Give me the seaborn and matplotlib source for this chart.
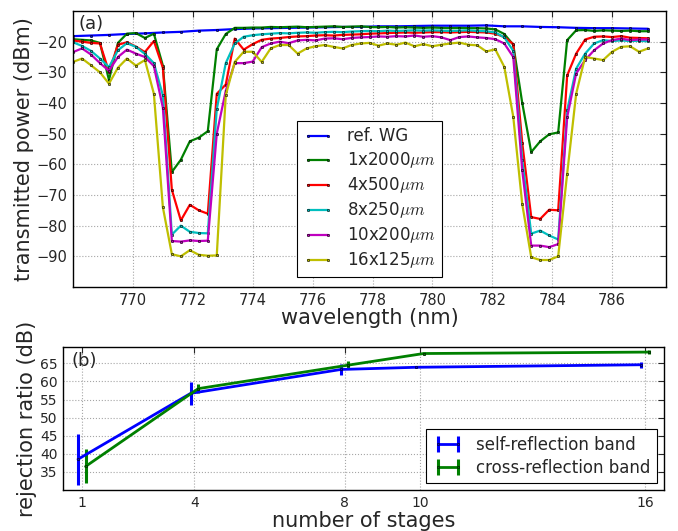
import numpy as np
import pandas as pd
import matplotlib
matplotlib.use("Agg")
import matplotlib.pyplot as plt
import seaborn as sns

# --- panel (a): transmitted power vs wavelength ---
wavelength = [768.0, 768.3, 768.6, 768.9, 769.2, 769.5, 769.8, 770.1, 770.4, 770.7,
              771.0, 771.3, 771.6, 771.9, 772.2, 772.5, 772.8, 773.1, 773.4, 773.7,
              774.0, 774.3, 774.6, 774.9, 775.2, 775.5, 775.8, 776.1, 776.4, 776.7,
              777.0, 777.3, 777.6, 777.9, 778.2, 778.5, 778.8, 779.1, 779.4, 779.7,
              780.0, 780.3, 780.6, 780.9, 781.2, 781.5, 781.8, 782.1, 782.4, 782.7,
              783.0, 783.3, 783.6, 783.9, 784.2, 784.5, 784.8, 785.1, 785.4, 785.7,
              786.0, 786.3, 786.6, 786.9, 787.2]

ref_wavelength = [768.0, 768.6, 769.2, 769.8, 770.4, 771.0, 771.6, 772.2, 772.8, 773.4,
                  774.0, 774.6, 775.2, 775.8, 776.4, 777.0, 777.6, 778.2, 778.8, 779.4,
                  780.0, 780.6, 781.2, 781.8, 782.4, 783.0, 783.6, 784.2, 784.8, 785.4,
                  786.0, 786.6, 787.2]
ref_wg = [-18.2, -18.0, -17.8, -17.5, -17.3, -17.0, -16.8, -16.4, -16.2, -15.9,
          -15.7, -15.6, -15.5, -15.4, -15.3, -15.2, -15.2, -15.0, -15.0, -14.9,
          -14.8, -14.8, -14.8, -14.7, -15.0, -15.0, -15.2, -15.3, -15.5, -15.6,
          -15.6, -15.7, -15.8]

g_1x2000 = [-19.2, -19.4, -19.6, -20.4, -32.5, -20.4, -17.4, -17.2, -18.8, -17.4,
            -27.8, -62.5, -58.5, -52.5, -51.3, -49.2, -22.5, -17.5, -15.5, -15.5,
            -15.4, -15.4, -15.2, -15.3, -15.2, -15.1, -15.3, -15.2, -15.1, -15.0,
            -15.2, -15.1, -15.0, -15.2, -15.3, -15.2, -15.4, -15.3, -15.4, -15.5,
            -15.4, -15.5, -15.6, -15.5, -15.6, -15.6, -15.7, -16.0, -17.5, -21.0,
            -40.0, -56.0, -52.5, -50.2, -49.6, -19.5, -16.3, -16.2, -16.5, -16.3,
            -16.4, -16.5, -16.4, -16.6, -16.6]

g_4x500 = [-19.6, -20.0, -20.4, -20.6, -29.8, -21.0, -20.2, -21.6, -23.4, -19.8,
           -28.5, -68.3, -78.3, -73.2, -75.0, -76.1, -37.0, -34.0, -19.0, -22.6,
           -20.8, -19.4, -19.0, -18.8, -18.5, -18.3, -18.2, -18.0, -17.9, -18.0,
           -17.8, -17.7, -17.6, -17.4, -17.3, -17.2, -17.1, -17.0, -17.1, -17.0,
           -16.9, -16.9, -17.0, -16.9, -16.8, -16.9, -17.0, -17.4, -18.5, -20.8,
           -53.0, -77.2, -77.8, -74.8, -75.0, -31.0, -23.9, -19.3, -18.4, -18.3,
           -18.5, -18.2, -18.7, -18.8, -18.9]

g_8x250 = [-20.2, -21.4, -23.0, -25.5, -28.3, -22.8, -20.5, -21.7, -24.0, -27.0,
           -37.5, -82.9, -80.0, -82.0, -82.4, -82.5, -42.0, -27.0, -20.6, -18.4,
           -17.9, -17.6, -17.4, -17.2, -17.3, -17.1, -17.0, -17.1, -16.9, -16.8,
           -16.9, -16.7, -16.6, -16.5, -16.6, -16.4, -16.5, -16.4, -16.3, -16.4,
           -16.3, -16.4, -16.5, -16.4, -16.3, -16.5, -16.6, -17.0, -18.6, -23.0,
           -58.5, -82.6, -81.6, -83.2, -84.5, -42.4, -28.8, -23.9, -20.6, -19.5,
           -19.8, -19.6, -19.8, -19.7, -19.9]

g_10x200 = [-23.4, -22.2, -24.2, -27.0, -29.5, -25.0, -22.6, -23.9, -25.0, -28.0,
            -41.5, -85.0, -85.2, -84.8, -85.0, -84.9, -50.0, -36.0, -27.0, -27.0,
            -26.5, -21.8, -20.6, -20.0, -20.5, -19.6, -19.4, -19.6, -19.0, -18.9,
            -19.2, -18.8, -18.6, -18.5, -18.3, -18.4, -18.2, -18.3, -18.0, -18.4,
            -18.2, -18.6, -19.5, -18.5, -18.3, -18.6, -18.8, -19.2, -20.6, -25.0,
            -62.0, -86.5, -86.5, -87.0, -86.0, -44.6, -30.4, -26.0, -22.8, -20.6,
            -19.5, -19.0, -19.5, -19.3, -19.3]

g_16x125 = [-26.6, -25.5, -27.7, -30.0, -33.7, -28.5, -25.5, -27.8, -26.0, -37.0,
            -74.0, -89.3, -90.0, -88.0, -89.5, -89.8, -89.7, -37.5, -26.6, -23.3,
            -23.3, -26.6, -22.2, -21.1, -21.1, -23.9, -22.2, -21.5, -21.1, -21.7,
            -22.2, -21.1, -20.6, -20.4, -21.3, -20.6, -21.0, -20.3, -21.5, -20.8,
            -21.5, -21.0, -20.6, -20.3, -21.0, -21.2, -23.2, -22.5, -28.2, -44.5,
            -73.0, -90.3, -91.2, -91.2, -90.0, -63.0, -37.0, -25.0, -25.5, -26.0,
            -23.3, -21.7, -21.5, -23.3, -22.2]

device_labels = [r"1x2000$\mu m$", r"4x500$\mu m$", r"8x250$\mu m$",
                 r"10x200$\mu m$", r"16x125$\mu m$"]
device_series = [g_1x2000, g_4x500, g_8x250, g_10x200, g_16x125]
device_colors = ["#008000", "#ff0000", "#00bfbf", "#bf00bf", "#bfbf00"]

# --- panel (b): rejection ratio vs number of stages ---
stage_ticks = [1, 4, 8, 10, 16]
self_x = [0.9, 3.9, 7.9, 9.9, 15.9]
self_y = [38.5, 56.7, 63.3, 63.9, 64.6]
self_err = [7.0, 3.2, 1.6, 0.3, 0.8]
cross_x = [1.1, 4.1, 8.1, 10.1, 16.1]
cross_y = [36.5, 58.0, 64.5, 67.7, 68.1]
cross_err = [4.7, 1.2, 1.2, 0.4, 0.5]

sns.set_style("white")
plt.rcParams["font.family"] = ["DejaVu Sans"]
plt.rcParams["mathtext.fontset"] = "cm"

fig = plt.figure(figsize=(6.78, 5.31), dpi=100)
ax1 = fig.add_axes([0.1077, 0.4595, 0.8746, 0.5198])
ax2 = fig.add_axes([0.0929, 0.0772, 0.8864, 0.2693])

line_kw = dict(marker=".", ms=3.5, mec="k", mew=0.4, lw=1.6, ax=ax1)
sns.lineplot(x=ref_wavelength, y=ref_wg, color="#0000ff", label="ref. WG", **line_kw)
for vals, lab, col in zip(device_series, device_labels, device_colors):
    sns.lineplot(x=wavelength, y=vals, color=col, label=lab, **line_kw)

ax1.set_xlim(768, 787.8)
ax1.set_ylim(-100, -10)
ax1.set_xticks([770, 772, 774, 776, 778, 780, 782, 784, 786])
ax1.set_yticks([-20, -30, -40, -50, -60, -70, -80, -90])
ax1.set_xlabel("wavelength (nm)", fontsize=15, labelpad=0)
ax1.set_ylabel("transmitted power (dBm)", fontsize=15, labelpad=2)
ax1.text(0.01, 0.985, "(a)", transform=ax1.transAxes, fontsize=13, va="top", ha="left")
leg1 = ax1.legend(loc="lower center", fontsize=12, numpoints=2, fancybox=False,
                  framealpha=1, edgecolor="k", handlelength=1.8, borderaxespad=0.6,
                  labelspacing=0.3)
leg1.get_frame().set_linewidth(0.8)

ax2.errorbar(self_x, self_y, yerr=self_err, color="#0000ff", lw=2, elinewidth=2.2,
             marker=".", ms=3.5, mec="k", mew=0.4, capsize=0, label="self-reflection band")
ax2.errorbar(cross_x, cross_y, yerr=cross_err, color="#008000", lw=2, elinewidth=2.2,
             marker=".", ms=3.5, mec="k", mew=0.4, capsize=0, label="cross-reflection band")
ax2.set_xlim(0.5, 16.5)
ax2.set_ylim(30, 69.5)
ax2.set_xticks(stage_ticks)
ax2.set_yticks([35, 40, 45, 50, 55, 60, 65])
ax2.set_xlabel("number of stages", fontsize=15, labelpad=1)
ax2.set_ylabel("rejection ratio (dB)", fontsize=15, labelpad=2)
ax2.text(0.014, 0.965, "(b)", transform=ax2.transAxes, fontsize=13, va="top", ha="left")
leg2 = ax2.legend(loc="lower right", fontsize=12, numpoints=2, fancybox=False,
                  framealpha=1, edgecolor="k", handlelength=1.8, borderaxespad=0.4,
                  labelspacing=0.3)
leg2.get_frame().set_linewidth(0.8)

for ax in (ax1, ax2):
    ax.grid(True, color="0.65", linestyle=":", linewidth=0.8)
    ax.tick_params(direction="in", top=True, right=True, length=4, labelsize=10.5, pad=4)
    for sp in ax.spines.values():
        sp.set_color("k")
        sp.set_linewidth(1.0)
ax2.tick_params(labelsize=10)

fig.savefig("out.png", dpi=100)
